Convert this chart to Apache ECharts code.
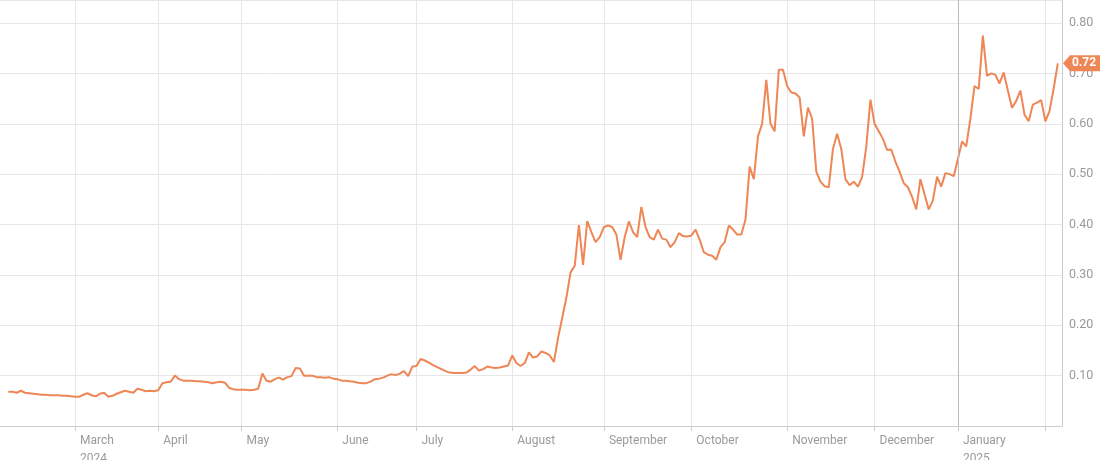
<!DOCTYPE html>
<html><head><meta charset="utf-8">
<script src="https://cdn.jsdelivr.net/npm/echarts/dist/echarts.min.js"></script>
<style>html,body{margin:0;padding:0;background:#fff}#c{width:1100px;height:460px}</style>
</head><body><div id="c"></div>
<script>
// month keys (one per group of daily points)
const months = ['2024-02','2024-03','2024-04','2024-05','2024-06','2024-07','2024-08','2024-09','2024-10','2024-11','2024-12','2025-01','2025-02'];
// tick labels at the first point of each month
const monthTickLabels = ['', 'March\n2024', 'April', 'May', 'June', 'July', 'August', 'September', 'October', 'November', 'December', 'January\n2025', ''];

// daily values per month (null = no value)
const feb24 = [null, null, 0.068, 0.068, 0.066, 0.07, 0.066, 0.065, 0.064, 0.063, 0.062, 0.062, 0.061, 0.061, 0.061, 0.06, 0.06, 0.059];
const mar24 = [0.058, 0.058, 0.062, 0.065, 0.061, 0.059, 0.064, 0.066, 0.058, 0.06, 0.064, 0.067, 0.07, 0.068, 0.066, 0.074, 0.072, 0.069, 0.07, 0.069];
const apr24 = [0.071, 0.085, 0.087, 0.088, 0.1, 0.093, 0.09, 0.09, 0.09, 0.089, 0.089, 0.088, 0.087, 0.085, 0.087, 0.088, 0.086, 0.076, 0.073, 0.072];
const may24 = [0.072, 0.072, 0.071, 0.072, 0.074, 0.104, 0.09, 0.088, 0.093, 0.096, 0.092, 0.097, 0.099, 0.115, 0.114, 0.1, 0.1, 0.1, 0.097, 0.097, 0.096, 0.097, 0.094];
const jun24 = [0.093, 0.09, 0.09, 0.089, 0.088, 0.086, 0.085, 0.085, 0.088, 0.093, 0.094, 0.096, 0.1, 0.103, 0.101, 0.104, 0.109, 0.099, 0.118];
const jul24 = [0.119, 0.133, 0.13, 0.126, 0.121, 0.117, 0.113, 0.109, 0.106, 0.105, 0.105, 0.105, 0.106, 0.112, 0.119, 0.11, 0.113, 0.118, 0.116, 0.115, 0.116, 0.118, 0.12];
const aug24 = [0.14, 0.125, 0.119, 0.125, 0.146, 0.136, 0.138, 0.148, 0.145, 0.14, 0.127, 0.175, 0.215, 0.255, 0.305, 0.318, 0.399, 0.32, 0.407, 0.385, 0.365, 0.375];
const sep24 = [0.395, 0.398, 0.395, 0.38, 0.33, 0.375, 0.406, 0.385, 0.375, 0.435, 0.395, 0.375, 0.37, 0.39, 0.372, 0.37, 0.355, 0.365, 0.383, 0.377, 0.376];
const oct24 = [0.378, 0.39, 0.37, 0.345, 0.34, 0.338, 0.33, 0.355, 0.365, 0.398, 0.39, 0.38, 0.38, 0.41, 0.515, 0.49, 0.575, 0.6, 0.687, 0.6, 0.585, 0.707, 0.707];
const nov24 = [0.675, 0.662, 0.66, 0.652, 0.575, 0.632, 0.61, 0.505, 0.485, 0.476, 0.474, 0.55, 0.58, 0.55, 0.49, 0.478, 0.485, 0.475, 0.494, 0.554, 0.648];
const dec24 = [0.6, 0.585, 0.57, 0.548, 0.549, 0.525, 0.505, 0.482, 0.474, 0.455, 0.43, 0.49, 0.46, 0.43, 0.448, 0.495, 0.475, 0.502, 0.5, 0.496];
const jan25 = [0.53, 0.565, 0.555, 0.61, 0.675, 0.669, 0.775, 0.695, 0.7, 0.697, 0.68, 0.702, 0.666, 0.632, 0.645, 0.666, 0.618, 0.605, 0.638, 0.642, 0.647];
const feb25 = [0.605, 0.625, 0.67, 0.72, null];

const monthValues = [feb24, mar24, apr24, may24, jun24, jul24, aug24, sep24, oct24, nov24, dec24, jan25, feb25];

// build categories: weekdays of each month (first month takes its last weekdays)
function weekdaysOf(ym) {
  const [y, m] = ym.split('-').map(Number);
  const out = [];
  const d = new Date(Date.UTC(y, m - 1, 1));
  while (d.getUTCMonth() === m - 1) {
    const wd = d.getUTCDay();
    if (wd !== 0 && wd !== 6) out.push(d.toISOString().slice(0, 10));
    d.setUTCDate(d.getUTCDate() + 1);
  }
  return out;
}
const categories = [];
const values = [];
const tickLabelOf = {};
months.forEach((ym, mi) => {
  const vals = monthValues[mi];
  const wds = weekdaysOf(ym);
  const days = mi === 0 ? wds.slice(wds.length - vals.length) : wds.slice(0, vals.length);
  days.forEach((d, k) => {
    categories.push(d);
    values.push(vals[k] === null ? '-' : vals[k]);
    if (k === 0 && mi > 0) tickLabelOf[d] = monthTickLabels[mi];
  });
});
const isMonthStart = (idx, val) => Object.prototype.hasOwnProperty.call(tickLabelOf, val);
const yearStart = categories.find(c => c.startsWith('2025-01'));
let lastValue = null;
values.forEach(v => { if (v !== '-') lastValue = v; });

const lineColor = '#ee8656';
const gridColor = '#e7e7e7';
const axisColor = '#cccccc';
const textColor = '#9a9a9a';

const chart = echarts.init(document.getElementById('c'), null, { renderer: 'canvas' });
chart.setOption({
  animation: false,
  backgroundColor: '#ffffff',
  grid: { left: 0, right: 38, top: 0, bottom: 34, containLabel: false, outerBoundsMode: 'none' },
  xAxis: {
    type: 'category',
    data: categories,
    boundaryGap: false,
    axisLine: { show: true, lineStyle: { color: axisColor, width: 1 } },
    axisTick: { show: true, length: 5, interval: isMonthStart, lineStyle: { color: axisColor } },
    splitLine: { show: true, interval: isMonthStart, lineStyle: { color: gridColor, width: 1 } },
    axisLabel: {
      interval: isMonthStart,
      formatter: (v) => tickLabelOf[v] || '',
      align: 'left',
      padding: [0, 0, 0, 5],
      margin: 6,
      color: textColor,
      fontFamily: 'Roboto',
      fontSize: 12,
      lineHeight: 18
    }
  },
  yAxis: {
    type: 'value',
    position: 'right',
    min: 0,
    max: 0.8457,
    interval: 0.1,
    axisLine: { show: true, lineStyle: { color: axisColor } },
    axisTick: { show: false },
    splitLine: { show: true, lineStyle: { color: gridColor, width: 1 } },
    axisLabel: {
      showMinLabel: false,
      showMaxLabel: false,
      formatter: (v) => v.toFixed(2),
      margin: 7,
      color: textColor,
      fontFamily: 'Roboto',
      fontSize: 12.5
    }
  },
  series: [{
    type: 'line',
    data: values,
    symbol: 'none',
    connectNulls: false,
    lineStyle: { color: lineColor, width: 2 },
    itemStyle: { color: lineColor },
    markLine: {
      silent: true,
      symbol: ['none', 'none'],
      label: { show: false },
      lineStyle: { color: '#b9b9b9', width: 1, type: 'solid' },
      data: [{ xAxis: yearStart }]
    },
    markPoint: {
      silent: true,
      symbol: 'path://M0,8 L7,0 L44,0 L44,16 L7,16 Z',
      symbolSize: [44, 16],
      symbolOffset: [23, 0],
      itemStyle: { color: lineColor },
      label: {
        show: true,
        formatter: () => lastValue.toFixed(2),
        color: '#ffffff',
        fontFamily: 'Roboto',
        fontSize: 12,
        fontWeight: 'bold',
        offset: [-1, 0]
      },
      data: [{ coord: [categories[categories.length - 1], lastValue], value: lastValue }]
    }
  }]
});
</script>
</body></html>
